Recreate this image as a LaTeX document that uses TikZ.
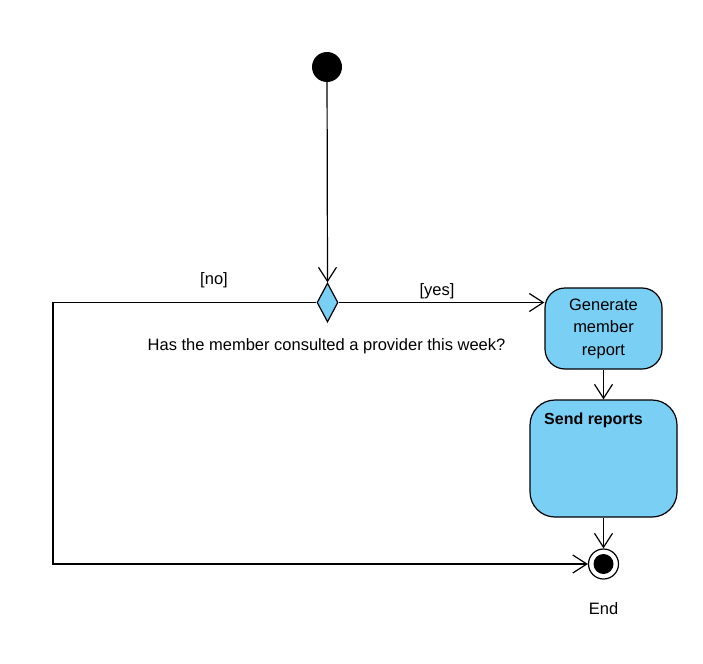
\documentclass[tikz,border=0pt]{standalone}
\usepackage{fontspec}
\setmainfont{Liberation Sans}
\usetikzlibrary{shapes.geometric,arrows.meta}
\definecolor{actblue}{RGB}{122,207,245}
\begin{document}
\begin{tikzpicture}[x=1pt,y=-1pt,
  every node/.style={font=\fontsize{16.5}{22.5}\selectfont},
  conn/.style={line width=1.2pt,draw=black},
  arr/.style={conn,-{Straight Barb[length=14pt,width=18pt,line width=1.2pt]}},
  act/.style={draw=black,line width=1.2pt,fill=actblue,inner sep=0pt,align=center},
  lbl/.style={inner sep=0pt}]
\useasboundingbox (0,0) rectangle (703,663);
\node[circle,fill=black,minimum size=30pt,inner sep=0pt] (start) at (327,67) {};
\node[diamond,draw=black,line width=1.2pt,fill=actblue,minimum width=21pt,minimum height=39pt,inner sep=0pt] (dec) at (327.5,302.5) {};
\node[act,rounded corners=20pt,minimum width=117pt,minimum height=81pt] (gen) at (603.5,328.5) {Generate\\member\\report};
\node[act,rounded corners=25pt,minimum width=147pt,minimum height=117pt] (send) at (603.5,458.5) {};
\node[lbl,anchor=west,font=\fontsize{16}{18}\selectfont\bfseries] (sendl) at (544,420) {Send reports};
\node[circle,draw=black,line width=1.2pt,fill=white,minimum size=30pt,inner sep=0pt] (end) at (603.5,564) {};
\node[circle,fill=black,minimum size=20pt,inner sep=0pt] (endin) at (end.center) {};
\node[lbl] (endl) at (603.5,609) {End};
\node[lbl] (no) at (214,280) {[no]};
\node[lbl] (yes) at (437,291) {[yes]};
\node[lbl] (q) at (326.5,346) {Has the member consulted a provider this week?};
\coordinate (c1) at (53,302.5);
\coordinate (c2) at (53,564);
\draw[arr] (start) -- (dec.north);
\draw[arr] (dec.east) -- (dec.east -| gen.west);
\draw[arr] (dec.west) -- (c1) -- (c2) -- (end.west);
\draw[arr] (gen.south) -- (send.north);
\draw[arr] (send.south) -- (end.north);
\end{tikzpicture}
\end{document}
